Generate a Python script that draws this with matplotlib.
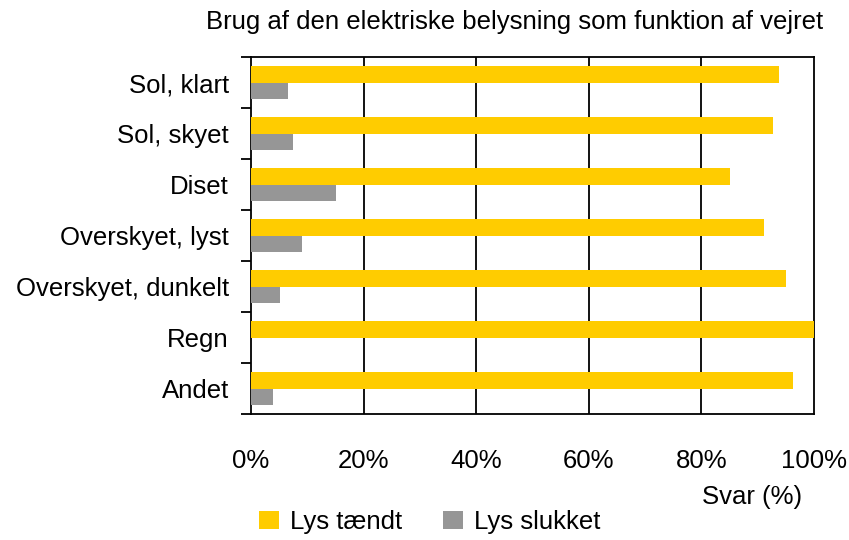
import numpy as np
import matplotlib.pyplot as plt

plt.rcParams['font.family'] = ['Liberation Sans', 'DejaVu Sans']

categories = ['Sol, klart', 'Sol, skyet', 'Diset', 'Overskyet, lyst',
              'Overskyet, dunkelt', 'Regn', 'Andet']
lys_taendt = [93.7, 92.8, 85.1, 91.2, 95.0, 100.0, 96.2]
lys_slukket = [6.5, 7.5, 15.1, 9.0, 5.2, 0.0, 3.9]
xticks = [0, 20, 40, 60, 80, 100]

fs = 18.5

fig = plt.figure(figsize=(8.49, 5.40), dpi=100)
ax = fig.add_axes([0.2957, 0.2333, 0.6631, 0.6611])

y = np.arange(len(categories))
h = 0.33
ax.barh(y - h / 2, lys_taendt, height=h, color='#FFCC00', label='Lys tændt', zorder=3)
ax.barh(y + h / 2, lys_slukket, height=h, color='#969696', label='Lys slukket', zorder=3)

ax.set_xlim(0, 100)
ax.set_ylim(len(categories) - 0.5, -0.5)

ax.set_xticks(xticks)
ax.set_xticklabels([f'{v}%' for v in xticks], fontsize=fs)
ax.tick_params(axis='x', length=0, pad=25)
for v in xticks[1:-1]:
    ax.axvline(v, color='black', lw=1.3, zorder=1)

# category boundaries as ticks, labels on minor ticks at centres
ax.set_yticks(np.arange(len(categories) + 1) - 0.5)
ax.set_yticklabels([])
ax.tick_params(axis='y', which='major', length=7, width=1.3, direction='out')
ax.set_yticks(y, minor=True)
ax.set_yticklabels(categories, minor=True, fontsize=fs)
ax.tick_params(axis='y', which='minor', length=0, pad=16)

for s in ax.spines.values():
    s.set_linewidth(1.3)
    s.set_color('black')

fig.text(515 / 849, 1 - 22 / 540, 'Brug af den elektriske belysning som funktion af vejret',
         ha='center', va='center', fontsize=fs)
fig.text(752 / 849, 1 - 497 / 540, 'Svar (%)', ha='center', va='center', fontsize=fs)

fig.legend(loc='center', bbox_to_anchor=(430 / 849, 1 - 522 / 540), ncol=2, frameon=False,
           fontsize=fs, handlelength=0.75, handleheight=0.75, columnspacing=1.6,
           handletextpad=0.45, borderpad=0)

fig.savefig('out.png', dpi=100)
